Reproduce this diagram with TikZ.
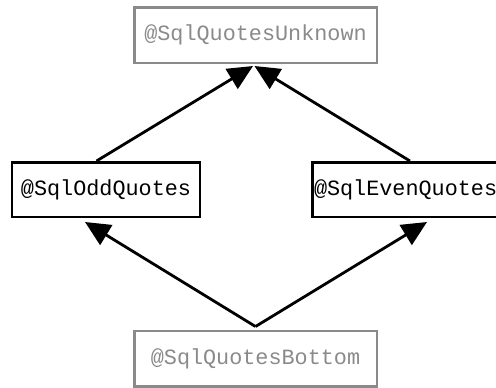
\documentclass[tikz,border=0pt]{standalone}
\usepackage{fontspec}
\setmonofont{Liberation Mono}
\usetikzlibrary{arrows.meta}
\definecolor{boxgrey}{HTML}{8A8A8A}
\tikzset{
  basebox/.style={draw, rectangle, line width=2.5bp, inner sep=0pt,
    font=\fontsize{21.8bp}{26bp}\selectfont\ttfamily},
  greybox/.style={basebox, draw=boxgrey, text=boxgrey},
  blackbox/.style={basebox, draw=black, text=black},
  edge/.style={line width=2.8bp, -{Triangle[length=25bp,width=23bp]}},
}
\begin{document}
\begin{tikzpicture}[x=1bp,y=-1bp]
\useasboundingbox (0,0) rectangle (496,387);
\node[greybox, minimum width=242.5bp, minimum height=55.5bp] (unk) at (255.5,35) {@SqlQuotesUnknown};
\node[blackbox, minimum width=187.5bp, minimum height=54.5bp] (odd) at (106,189.5) {@SqlOddQuotes};
\node[blackbox, minimum width=195.5bp, minimum height=54.5bp] (even) at (410,189.5) {\makebox[193bp][l]{\hspace{0.5bp}@SqlEvenQuotes}};
\node[greybox, minimum width=242.5bp, minimum height=55.5bp] (bot) at (255.5,358.5) {@SqlQuotesBottom};
\draw[edge] ([xshift=-9.5bp]odd.north) -- ([xshift=-2.5bp,yshift=-2bp]unk.south);
\draw[edge] (even.north) -- ([xshift=-1bp,yshift=-2bp]unk.south);
\coordinate (apex) at ([yshift=3bp]bot.north);
\draw[edge] (apex) -- ([xshift=-21bp,yshift=-4bp]odd.south);
\draw[edge] (apex) -- ([xshift=17bp,yshift=-4bp]even.south);
\end{tikzpicture}
\end{document}
